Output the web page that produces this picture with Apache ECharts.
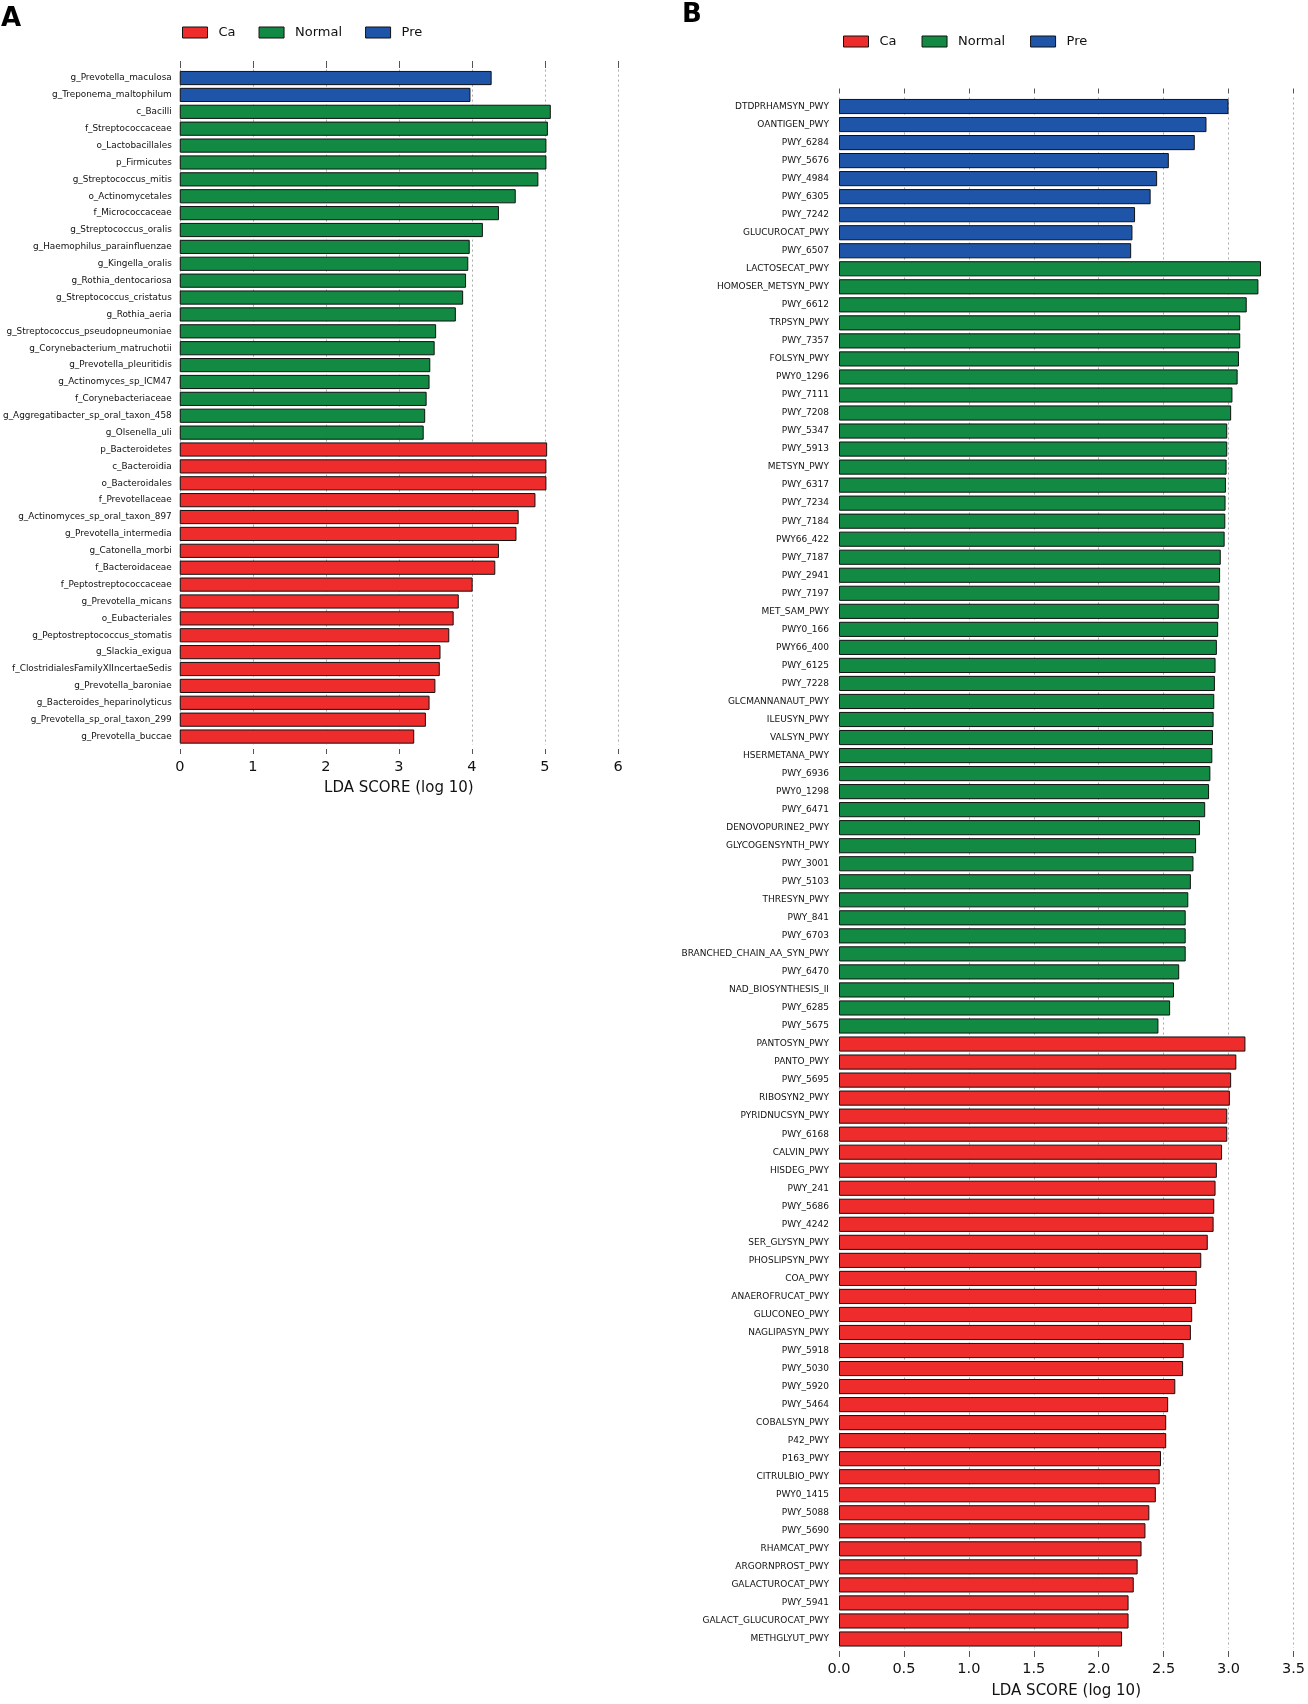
<!DOCTYPE html>
<html>
<head>
<meta charset="utf-8">
<script src="https://cdn.jsdelivr.net/npm/echarts@6/dist/echarts.min.js"></script>
<style>
html,body{margin:0;padding:0;background:#fff;}
#chart{width:1308px;height:1704px;}
</style>
</head>
<body>
<div id="chart"></div>
<script>
// ---------------- Panel A data ----------------
const labelsA = [
  'g_Prevotella_maculosa','g_Treponema_maltophilum','c_Bacilli','f_Streptococcaceae','o_Lactobacillales',
  'p_Firmicutes','g_Streptococcus_mitis','o_Actinomycetales','f_Micrococcaceae','g_Streptococcus_oralis',
  'g_Haemophilus_parainfluenzae','g_Kingella_oralis','g_Rothia_dentocariosa','g_Streptococcus_cristatus','g_Rothia_aeria',
  'g_Streptococcus_pseudopneumoniae','g_Corynebacterium_matruchotii','g_Prevotella_pleuritidis','g_Actinomyces_sp_ICM47','f_Corynebacteriaceae',
  'g_Aggregatibacter_sp_oral_taxon_458','g_Olsenella_uli','p_Bacteroidetes','c_Bacteroidia','o_Bacteroidales',
  'f_Prevotellaceae','g_Actinomyces_sp_oral_taxon_897','g_Prevotella_intermedia','g_Catonella_morbi','f_Bacteroidaceae',
  'f_Peptostreptococcaceae','g_Prevotella_micans','o_Eubacteriales','g_Peptostreptococcus_stomatis','g_Slackia_exigua',
  'f_ClostridialesFamilyXIIncertaeSedis','g_Prevotella_baroniae','g_Bacteroides_heparinolyticus','g_Prevotella_sp_oral_taxon_299','g_Prevotella_buccae'
];
const valuesA = [
  4.27,3.98,5.08,5.04,5.02,
  5.02,4.91,4.60,4.37,4.15,
  3.97,3.95,3.92,3.88,3.78,
  3.51,3.49,3.43,3.42,3.38,
  3.36,3.34,5.03,5.02,5.02,
  4.87,4.64,4.61,4.37,4.32,
  4.01,3.82,3.75,3.69,3.57,
  3.56,3.50,3.42,3.37,3.21
];
const groupsA = [
  'Pre','Pre','Normal','Normal','Normal','Normal','Normal','Normal','Normal','Normal',
  'Normal','Normal','Normal','Normal','Normal','Normal','Normal','Normal','Normal','Normal',
  'Normal','Normal','Ca','Ca','Ca','Ca','Ca','Ca','Ca','Ca',
  'Ca','Ca','Ca','Ca','Ca','Ca','Ca','Ca','Ca','Ca'
];
const ticksA = ['0','1','2','3','4','5','6'];

// ---------------- Panel B data ----------------
const labelsB = [
  'DTDPRHAMSYN_PWY','OANTIGEN_PWY','PWY_6284','PWY_5676','PWY_4984','PWY_6305','PWY_7242','GLUCUROCAT_PWY','PWY_6507',
  'LACTOSECAT_PWY','HOMOSER_METSYN_PWY','PWY_6612','TRPSYN_PWY','PWY_7357','FOLSYN_PWY','PWY0_1296','PWY_7111','PWY_7208',
  'PWY_5347','PWY_5913','METSYN_PWY','PWY_6317','PWY_7234','PWY_7184','PWY66_422','PWY_7187','PWY_2941','PWY_7197',
  'MET_SAM_PWY','PWY0_166','PWY66_400','PWY_6125','PWY_7228','GLCMANNANAUT_PWY','ILEUSYN_PWY','VALSYN_PWY','HSERMETANA_PWY',
  'PWY_6936','PWY0_1298','PWY_6471','DENOVOPURINE2_PWY','GLYCOGENSYNTH_PWY','PWY_3001','PWY_5103','THRESYN_PWY','PWY_841',
  'PWY_6703','BRANCHED_CHAIN_AA_SYN_PWY','PWY_6470','NAD_BIOSYNTHESIS_II','PWY_6285','PWY_5675',
  'PANTOSYN_PWY','PANTO_PWY','PWY_5695','RIBOSYN2_PWY','PYRIDNUCSYN_PWY','PWY_6168','CALVIN_PWY','HISDEG_PWY','PWY_241',
  'PWY_5686','PWY_4242','SER_GLYSYN_PWY','PHOSLIPSYN_PWY','COA_PWY','ANAEROFRUCAT_PWY','GLUCONEO_PWY','NAGLIPASYN_PWY',
  'PWY_5918','PWY_5030','PWY_5920','PWY_5464','COBALSYN_PWY','P42_PWY','P163_PWY','CITRULBIO_PWY','PWY0_1415','PWY_5088',
  'PWY_5690','RHAMCAT_PWY','ARGORNPROST_PWY','GALACTUROCAT_PWY','PWY_5941','GALACT_GLUCUROCAT_PWY','METHGLYUT_PWY'
];
const valuesB = [
  3.00,2.83,2.74,2.54,2.45,2.40,2.28,2.26,2.25,
  3.25,3.23,3.14,3.09,3.09,3.08,3.07,3.03,3.02,
  2.99,2.99,2.985,2.98,2.977,2.975,2.97,2.94,2.935,2.93,
  2.925,2.92,2.91,2.90,2.895,2.89,2.885,2.88,2.875,
  2.86,2.85,2.82,2.78,2.75,2.73,2.71,2.69,2.67,
  2.67,2.67,2.62,2.58,2.55,2.46,
  3.13,3.06,3.02,3.01,2.99,2.99,2.95,2.91,2.90,
  2.89,2.885,2.84,2.79,2.755,2.75,2.72,2.71,
  2.655,2.65,2.59,2.535,2.52,2.52,2.48,2.47,2.44,2.39,
  2.36,2.33,2.30,2.27,2.23,2.23,2.18
];
const countsB = {Pre: 9, Normal: 43, Ca: 34};
const groupsB = [].concat(
  Array(countsB.Pre).fill('Pre'),
  Array(countsB.Normal).fill('Normal'),
  Array(countsB.Ca).fill('Ca')
);
const ticksB = ['0.0','0.5','1.0','1.5','2.0','2.5','3.0','3.5'];

const groupNames = ['Ca','Normal','Pre'];
const groupColors = {Ca: '#EE2C2C', Normal: '#138A43', Pre: '#1F55A8'};

// ---------------- Build chart ----------------
const FONT = 'DejaVu Sans';
const chart = echarts.init(document.getElementById('chart'), null, {renderer: 'canvas'});

function seriesFor(gridIdx, labels, values, groups) {
  return groupNames.map(g => ({
    name: g,
    type: 'bar',
    xAxisIndex: gridIdx * 2,
    yAxisIndex: gridIdx,
    stack: 'panel' + gridIdx,
    barCategoryGap: '16%',
    itemStyle: {color: groupColors[g], borderColor: '#111', borderWidth: 1},
    emphasis: {disabled: true},
    data: values.map((v, i) => groups[i] === g ? v : '-')
  }));
}

function xAxes(gridIdx, max, interval, ticks, cfg) {
  const bottom = {
    type: 'value', gridIndex: gridIdx, position: 'bottom', min: 0, max: max, interval: interval,
    offset: cfg.bOffset,
    axisLine: {show: false},
    axisTick: {show: true, length: cfg.bTick, lineStyle: {color: '#555', width: 1}},
    axisLabel: {
      show: true, margin: cfg.labelMargin, color: '#111', fontFamily: FONT, fontSize: 14.5,
      formatter: function (v) { return ticks[Math.round(v / interval)]; }
    },
    splitLine: {show: true, lineStyle: {color: '#aaa', type: [2, 3], width: 1}},
    name: 'LDA SCORE (log 10)', nameLocation: 'middle', nameGap: cfg.nameGap,
    nameTextStyle: {color: '#111', fontFamily: FONT, fontSize: 15, verticalAlign: 'top'}
  };
  const top = {
    type: 'value', gridIndex: gridIdx, position: 'top', min: 0, max: max, interval: interval,
    offset: cfg.tOffset,
    axisLine: {show: false},
    axisTick: {show: true, length: cfg.tTick, lineStyle: {color: '#555', width: 1}},
    axisLabel: {show: false},
    splitLine: {show: false}
  };
  return [bottom, top];
}

function yAxis(gridIdx, labels, margin, size) {
  return {
    type: 'category', gridIndex: gridIdx, inverse: true, data: labels,
    axisLine: {show: false}, axisTick: {show: false}, splitLine: {show: false},
    axisLabel: {show: true, interval: 0, margin: margin, color: '#111', fontFamily: FONT, fontSize: size}
  };
}

function legend(left, top, gap) {
  return {
    data: groupNames, left: left, top: top, orient: 'horizontal', padding: 0,
    icon: 'rect', itemWidth: 25, itemHeight: 11, itemGap: gap,
    itemStyle: {borderColor: '#111', borderWidth: 1},
    textStyle: {color: '#111', fontFamily: FONT, fontSize: 13, padding: [0, 0, 0, 6]},
    selectedMode: false
  };
}

const option = {
  backgroundColor: '#ffffff',
  animation: false,
  graphic: [
    {type: 'text', left: 1, top: 6, style: {text: 'A', font: 'bold 26px "DejaVu Sans"', fill: '#000'}},
    {type: 'text', left: 682, top: 2, style: {text: 'B', font: 'bold 26px "DejaVu Sans"', fill: '#000'}}
  ],
  legend: [legend(182, 26, 23), legend(843, 35, 25)],
  grid: [
    {left: 177, top: 69.6, width: 441, height: 675.4, containLabel: false},
    {left: 839, top: 97.5, width: 462, height: 1562, containLabel: false}
  ],
  xAxis: [].concat(
    xAxes(0, 6, 1, ticksA, {bOffset: 4, bTick: 5, labelMargin: 11, nameGap: 32, tOffset: 1.6, tTick: 7}),
    xAxes(1, 3.5, 0.5, ticksB, {bOffset: 3, bTick: 6, labelMargin: 11, nameGap: 33, tOffset: 4, tTick: 5})
  ),
  yAxis: [yAxis(0, labelsA, 8, 8.9), yAxis(1, labelsB, 10, 9)],
  series: [].concat(
    seriesFor(0, labelsA, valuesA, groupsA),
    seriesFor(1, labelsB, valuesB, groupsB)
  )
};
chart.setOption(option);
</script>
</body>
</html>
